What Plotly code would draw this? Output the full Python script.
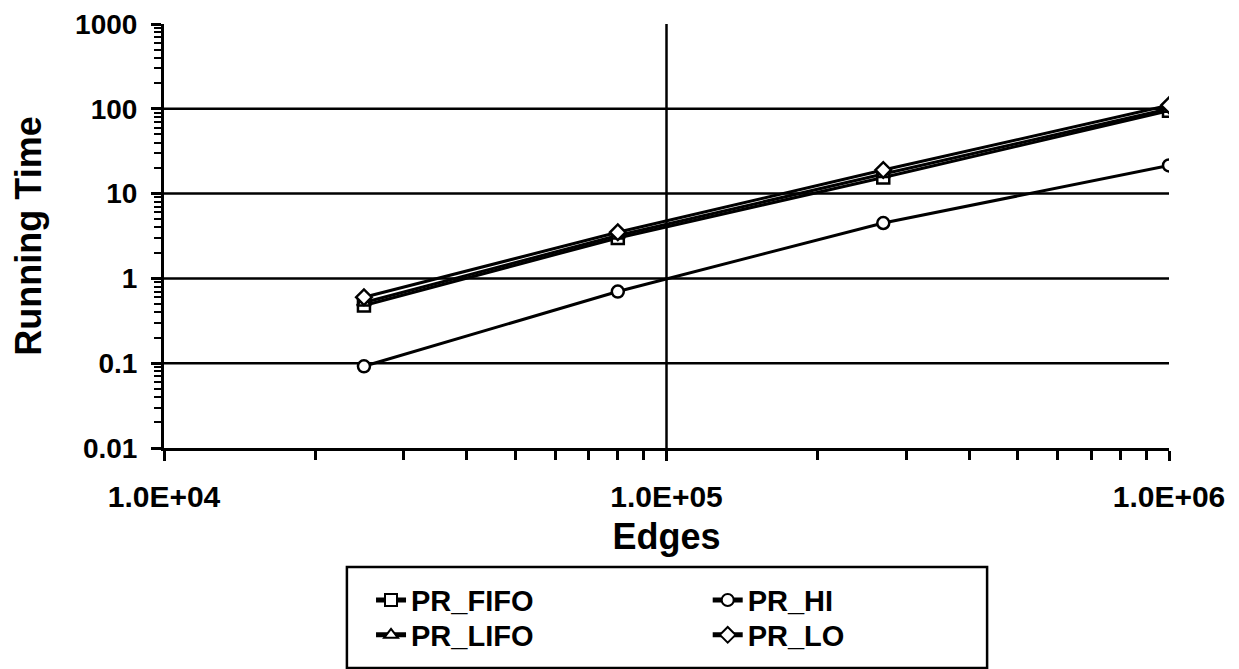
import plotly.graph_objects as go

edges = [25000, 80000, 270000, 1000000]
pr_fifo = [0.48, 3.0, 15.5, 95]
pr_lifo = [0.52, 3.2, 17.0, 100]
pr_hi = [0.092, 0.70, 4.5, 21.5]
pr_lo = [0.60, 3.5, 19.0, 110]

x_ticks = [1e4, 1e5, 1e6]
x_ticktext = ["1.0E+04", "1.0E+05", "1.0E+06"]
y_ticks = [0.01, 0.1, 1, 10, 100, 1000]
y_ticktext = ["0.01", "0.1", "1", "10", "100", "1000"]

FONT = "Liberation Sans, Arial, sans-serif"

# (name, values, symbol, legend id)
series = [
    ("PR_FIFO", pr_fifo, "square", "legend"),
    ("PR_LIFO", pr_lifo, "triangle-up", "legend3"),
    ("PR_HI", pr_hi, "circle", "legend2"),
    ("PR_LO", pr_lo, "diamond", "legend4"),
]

fig = go.Figure()
for name, vals, sym, lg in series:
    fig.add_trace(go.Scatter(
        x=edges, y=vals, name=name, mode="lines+markers",
        line=dict(color="black", width=3),
        marker=dict(symbol=sym, size=12, color="white", line=dict(width=2.5, color="black")),
        legend=lg,
    ))

# grid lines only at interior ticks (the reference has none at the plot edges)
for yv in y_ticks[1:-1]:
    fig.add_shape(type="line", xref="paper", x0=0, x1=1, yref="y", y0=yv, y1=yv,
                  line=dict(color="black", width=2.5), layer="below")
for xv in x_ticks[1:-1]:
    fig.add_shape(type="line", yref="paper", y0=0, y1=1, xref="x", x0=xv, x1=xv,
                  line=dict(color="black", width=2.5), layer="below")

# legend frame
fig.add_shape(type="rect", xref="paper", yref="paper",
              x0=0.182, x1=0.819, y0=-0.519, y1=-0.2807,
              line=dict(color="black", width=2.5), fillcolor="rgba(0,0,0,0)")

minor_x = [m * 10 ** e for e in (4, 5) for m in range(2, 10)]
minor_y = [m * 10 ** e for e in (-2, -1, 0, 1, 2) for m in range(2, 10)]

legend_font = dict(family=FONT, size=29, color="black", weight="bold")


def leg(x, y):
    return dict(x=x, xanchor="left", y=y, yanchor="middle", font=legend_font,
                borderwidth=0, bgcolor="rgba(0,0,0,0)", itemsizing="constant")


fig.update_layout(
    width=1239, height=669,
    paper_bgcolor="white", plot_bgcolor="white",
    margin=dict(l=156, r=78, t=16, b=229, autoexpand=False),
    font=dict(family=FONT, color="black", size=20),
    showlegend=True,
    legend=leg(0.206, -0.359),
    legend2=leg(0.541, -0.359),
    legend3=leg(0.206, -0.441),
    legend4=leg(0.541, -0.441),
    xaxis=dict(
        type="log", range=[4, 6],
        tickmode="array", tickvals=x_ticks, ticktext=x_ticktext,
        tickfont=dict(family=FONT, size=30, weight="bold"),
        ticks="outside", ticklen=10, tickwidth=2.5, tickcolor="black",
        ticklabelstandoff=10,
        showline=True, linecolor="black", linewidth=3,
        showgrid=False, zeroline=False,
        minor=dict(tickmode="array", tickvals=minor_x, ticks="outside",
                   ticklen=9, tickwidth=2.5, tickcolor="black", showgrid=False),
        title=dict(text="Edges", font=dict(family=FONT, size=36, weight="bold"), standoff=12),
    ),
    yaxis=dict(
        type="log", range=[-2, 3],
        tickmode="array", tickvals=y_ticks, ticktext=y_ticktext,
        tickfont=dict(family=FONT, size=28, weight="bold"),
        ticks="outside", ticklen=10, tickwidth=2.5, tickcolor="black",
        ticklabelstandoff=8,
        showline=True, linecolor="black", linewidth=3,
        showgrid=False, zeroline=False,
        minor=dict(tickmode="array", tickvals=minor_y, ticks="outside",
                   ticklen=7, tickwidth=2, tickcolor="black", showgrid=False),
        title=dict(text="Running Time", font=dict(family=FONT, size=36, weight="bold"), standoff=26),
    ),
)

fig.write_html("out.html")
